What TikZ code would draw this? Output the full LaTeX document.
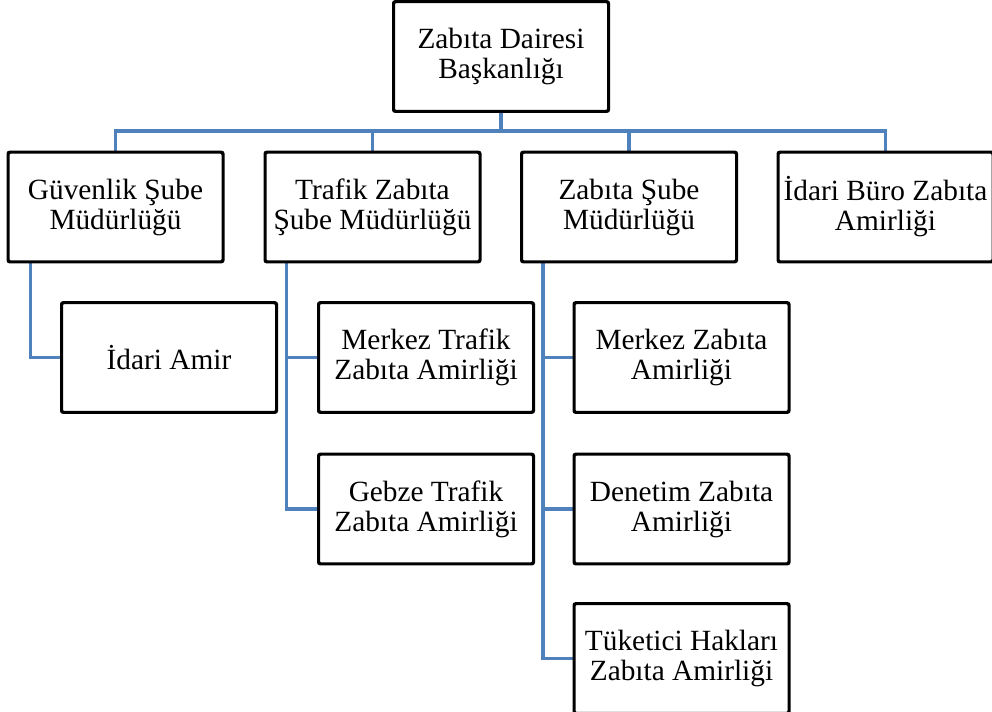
\documentclass[tikz,border=0pt]{standalone}
\usepackage{fontspec}
\setmainfont{Liberation Serif}
\definecolor{connblue}{HTML}{4F81BD}
\tikzset{
  orgbox/.style={draw=black, line width=1.5pt, rounded corners=1.5pt, fill=white,
    minimum width=160.5pt, minimum height=81.5pt, inner sep=0pt, align=center,
    font=\fontsize{22pt}{22.5pt}\selectfont},
  conn/.style={draw=connblue, line width=2.3pt}
}
\begin{document}
\begin{tikzpicture}[x=0.75pt, y=-0.75pt]
\useasboundingbox (0,0) rectangle (992,711);
% bus
\coordinate (bus) at (501,131);
% nodes
\node[orgbox] (top) at (501,56.5) {Zabıta Dairesi\\Başkanlığı};
\node[orgbox] (g) at (115.5,207) {Güvenlik Şube\\Müdürlüğü};
\node[orgbox] (t) at (372.5,207) {Trafik Zabıta\\Şube Müdürlüğü};
\node[orgbox] (z) at (629,207) {Zabıta Şube\\Müdürlüğü};
\node[orgbox] (i) at (885.5,207) {İdari Büro Zabıta\\Amirliği};
\node[orgbox] (ia) at (169,357.5) {İdari Amir};
\node[orgbox] (mt) at (426,357.5) {Merkez Trafik\\Zabıta Amirliği};
\node[orgbox] (gt) at (426,509) {Gebze Trafik\\Zabıta Amirliği};
\node[orgbox] (mz) at (681.5,357.5) {Merkez Zabıta\\Amirliği};
\node[orgbox] (dz) at (681.5,509) {Denetim Zabıta\\Amirliği};
\node[orgbox] (tk) at (681.5,658.5) {Tüketici Hakları\\Zabıta Amirliği};
% connectors
\draw[conn] (top.south) -- (bus);
\draw[conn] (g.north) -- (g.north |- bus) -- (i.north |- bus) -- (i.north);
\draw[conn] (t.north) -- (t.north |- bus);
\draw[conn] (z.north) -- (z.north |- bus);
\coordinate (gx) at ([xshift=17.5pt]g.south west);
\coordinate (tx) at ([xshift=16.5pt]t.south west);
\coordinate (zx) at ([xshift=16.5pt]z.south west);
\draw[conn] (gx) |- (ia.west);
\draw[conn] (tx) |- (gt.west);
\draw[conn] (tx |- mt.west) -- (mt.west);
\draw[conn] (zx) |- (tk.west);
\draw[conn] (zx |- mz.west) -- (mz.west);
\draw[conn] (zx |- dz.west) -- (dz.west);
% redraw box borders over the connector ends
\foreach \n in {top,g,t,z,i,ia,mt,gt,mz,dz,tk} {
  \draw[line width=1.5pt, rounded corners=1.5pt] (\n.south west) rectangle (\n.north east);
}
\end{tikzpicture}
\end{document}
